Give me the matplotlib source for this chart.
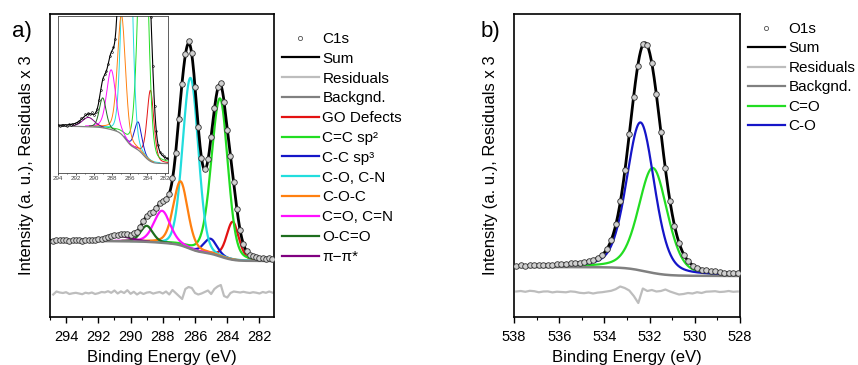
#!/usr/bin/env python
# XPS fits: C1s (a) and O1s (b) with components, background and residuals
import numpy as np
import matplotlib
matplotlib.use('Agg')
from matplotlib import pyplot as plt
from matplotlib.ticker import MultipleLocator

plt.rcParams['font.family'] = ['Liberation Sans', 'DejaVu Sans']

# ---- C1s fit parameters ----
c1s_names = ['GO Defects', 'C=C sp²', 'C-C sp³', 'C-O, C-N', 'C-O-C',
             'C=O, C=N', 'O-C=O', 'π−π*']
c1s_colors = ['#e31212', '#22dd22', '#1515c8', '#22dddd', '#ff8010',
              '#ff10ff', '#1e6e1e', '#800080']
c1s_center = [283.66, 284.45, 285.04, 286.28, 286.90, 288.05, 289.00, 290.60]
c1s_height = [38, 158, 15, 171, 64, 32, 16, 5]
c1s_fwhm_lo = [0.90, 1.15, 0.95, 1.14, 1.05, 1.20, 0.90, 1.60]   # low BE side
c1s_fwhm_hi = [0.90, 1.25, 0.95, 1.14, 1.05, 1.20, 0.90, 1.60]   # high BE side
c1s_eta = [0.3, 0.2, 0.3, 0.1, 0.3, 0.3, 0.3, 0.3]
c1s_bg = [56, 76]           # background level at low / high BE end
c1s_resid_base = 24

# residuals (x3, as drawn) at 294.8 ... 281.2 eV, step 0.2
c1s_resid = [-1.5, 1.5, 0.5, 0, 0.8, -1, -0.3, 0.2, -0.5, -1.2,
             0.3, -0.4, 0.5, -1, -0.2, 1, 0.6, 1.8, 0.2, 2.5,
             -0.5, 1.6, 0, 2.8, -0.8, 1.2, -1.5, 0.6, -1, 0.4,
             0.9, -0.6, 0.3, 1.0, -0.5,
             1.5, -1.5, 3, 0, -3, -6, 4, 6, 5, 0,
             -1.5, -0.5, 1, 2.5, -1, 4, 6.5, 8, -3, -4.5,
             0, 1.5, 1, 0.5, 1.2, 0.5, 0, 0.8, 0.3, -0.5,
             1, 0.2, 1.5, 0.4]

# ---- O1s fit parameters ----
o1s_names = ['C=O', 'C-O']
o1s_colors = ['#22dd22', '#1515c8']
o1s_center = [531.85, 532.40]
o1s_height = [105, 148]
o1s_fwhm = [1.50, 1.45]
o1s_eta = [0.3, 0.3]
o1s_bg = [41, 50]
o1s_resid_base = 25

# residuals (x3) at 537.9 ... 528.1 eV, step 0.2
o1s_resid = [0.5, 1, 0.2, 1.2, 0.8, -0.3, 0.5, 0.6, -0.4, 0.3,
             0, -0.3, 0.6, 0.2, -0.8, -1.2, -0.5, -1.5, -0.6, -0.2,
             0.5, 1.2, 2.8, 5.5, 4, 1.5, -4, -11, 3.5, 1,
             2, 0.5, 1, 2.5, 0.5, -1, -2.5, -2, -1, -1.5,
             -0.2, -1, 0.3, 0.5, 0.8, 0, 0.3, 1, 0.2, 0.5]


def peak(x, c, h, w_lo, w_hi, eta):
    w = np.where(x >= c, w_hi, w_lo)
    d = (x - c) / (w / 2.0)
    return h * ((1 - eta) * np.exp(-np.log(2) * d ** 2) + eta / (1 + d ** 2))


def shirley(x, total, lo, hi):
    # x ascending; step grows with the integrated peak area
    cum = np.cumsum(total)
    return lo + (hi - lo) * cum / cum[-1]


def fit_model(x, centers, heights, w_lo, w_hi, etas, bg):
    comps = [peak(x, *p) for p in zip(centers, heights, w_lo, w_hi, etas)]
    total = np.sum(comps, axis=0)
    back = shirley(x, total, bg[0], bg[1])
    return comps, back, back + total


def draw(ax, x, comps, back, total, e_pts, pts, resid, resid_base, colors,
         lw_c=1.6, lw_s=2.0, ms=4.0, inset=False):
    for comp, col in zip(comps, colors):
        y = np.where(comp > 0.4, back + comp, np.nan)
        ax.plot(x, y, color=col, lw=lw_c, zorder=2)
    ax.plot(x, back, color='#808080', lw=lw_c + 0.2, zorder=3)
    if not inset:
        ax.plot(e_pts, resid_base + np.array(resid), color='#bdbdbd', lw=1.6, zorder=2)
    ax.plot(x, total, color='black', lw=lw_s, zorder=4)
    if inset:
        ax.plot(e_pts, pts, 'o', ms=ms, mfc='none', mec='black', mew=0.4, zorder=5)
    else:
        ax.plot(e_pts, pts, 'o', ms=ms, mfc='#d0d0d0', mec='#303030', mew=0.6, zorder=5)


# ---- C1s ----
xa = np.linspace(281.0, 295.0, 1401)
ea = np.round(np.arange(294.8, 281.1, -0.2), 1)
comps_a, back_a, sum_a = fit_model(xa, c1s_center, c1s_height, c1s_fwhm_lo, c1s_fwhm_hi, c1s_eta, c1s_bg)
idx_a = np.round((ea - 281.0) / 0.01).astype(int)
pts_a = sum_a[idx_a] + np.array(c1s_resid) / 3.0

# ---- O1s ----
xb = np.linspace(527.5, 538.5, 1101)
eb = np.round(np.arange(537.9, 528.0, -0.2), 1)
comps_b, back_b, sum_b = fit_model(xb, o1s_center, o1s_height, o1s_fwhm, o1s_fwhm, o1s_eta, o1s_bg)
idx_b = np.round((eb - 527.5) / 0.01).astype(int)
pts_b = sum_b[idx_b] + np.array(o1s_resid) / 3.0

fig = plt.figure(figsize=(8.58, 3.65), dpi=100)
W, H = 858.0, 365.0
ax_a = fig.add_axes([50 / W, 1 - 317 / H, 224 / W, 303 / H])
ax_b = fig.add_axes([514 / W, 1 - 317 / H, 226 / W, 303 / H])

draw(ax_a, xa, comps_a, back_a, sum_a, ea, pts_a, c1s_resid, c1s_resid_base, c1s_colors)
draw(ax_b, xb, comps_b, back_b, sum_b, eb, pts_b, o1s_resid, o1s_resid_base, o1s_colors)

ax_a.set_xlim(295.0, 281.1)
ax_b.set_xlim(538, 528)
for ax in (ax_a, ax_b):
    ax.set_ylim(0, 303)
    ax.set_yticks([])
    ax.xaxis.set_major_locator(MultipleLocator(2))
    ax.xaxis.set_minor_locator(MultipleLocator(1))
    ax.tick_params(axis='x', which='major', direction='out', length=4.5, width=1,
                   labelsize=10.5, pad=5)
    ax.tick_params(axis='x', which='minor', direction='out', length=2.5, width=0.8)
    for s in ax.spines.values():
        s.set_linewidth(1.2)
    ax.set_xlabel('Binding Energy (eV)', fontsize=12, labelpad=4)

fig.text(27 / W, 1 - 165 / H, 'Intensity (a. u.), Residuals x 3', rotation=90,
         ha='center', va='center', fontsize=12)
fig.text(490 / W, 1 - 165 / H, 'Intensity (a. u.), Residuals x 3', rotation=90,
         ha='center', va='center', fontsize=12)
fig.text(22 / W, 1 - 31 / H, 'a)', ha='center', va='center', fontsize=16)
fig.text(490 / W, 1 - 31 / H, 'b)', ha='center', va='center', fontsize=16)

# ---- inset ----
ax_in = fig.add_axes([58 / W, 1 - 173 / H, 110 / W, 157 / H])
draw(ax_in, xa, comps_a, back_a, sum_a, ea, pts_a, c1s_resid, c1s_resid_base, c1s_colors,
     lw_c=0.7, lw_s=0.8, ms=1.3, inset=True)
ax_in.set_xlim(294.0, 281.7)
ax_in.set_ylim(51, 135)
ax_in.set_yticks([])
ax_in.xaxis.set_major_locator(MultipleLocator(2))
ax_in.xaxis.set_minor_locator(MultipleLocator(1))
ax_in.tick_params(axis='x', which='major', length=1.5, width=0.5, labelsize=4.5,
                  labelcolor='#444444', pad=1)
ax_in.tick_params(axis='x', which='minor', length=1, width=0.4)
for s in ax_in.spines.values():
    s.set_linewidth(0.6)
    s.set_color('#444444')


# ---- legends ----
def legend_handles(data_label, names, colors):
    hs = [plt.Line2D([], [], ls='none', marker='o', ms=3, mfc='white', mec='#505050', mew=0.6),
          plt.Line2D([], [], color='black', lw=1.6),
          plt.Line2D([], [], color='#bdbdbd', lw=1.6),
          plt.Line2D([], [], color='#808080', lw=1.6)]
    hs += [plt.Line2D([], [], color=c, lw=1.6) for c in colors]
    labels = [data_label, 'Sum', 'Residuals', 'Backgnd.'] + list(names)
    return hs, labels


h, l = legend_handles('C1s', c1s_names, c1s_colors)
fig.legend(h, l, loc='upper left', bbox_to_anchor=(282 / W, 1 - 32 / H), frameon=False,
           fontsize=11, handlelength=2.4, handletextpad=0.25, labelspacing=0.38,
           borderpad=0, borderaxespad=0, numpoints=1)
h, l = legend_handles('O1s', o1s_names, o1s_colors)
fig.legend(h, l, loc='upper left', bbox_to_anchor=(748 / W, 1 - 22 / H), frameon=False,
           fontsize=11, handlelength=2.4, handletextpad=0.25, labelspacing=0.36,
           borderpad=0, borderaxespad=0, numpoints=1)

fig.savefig('out.png', dpi=100)
